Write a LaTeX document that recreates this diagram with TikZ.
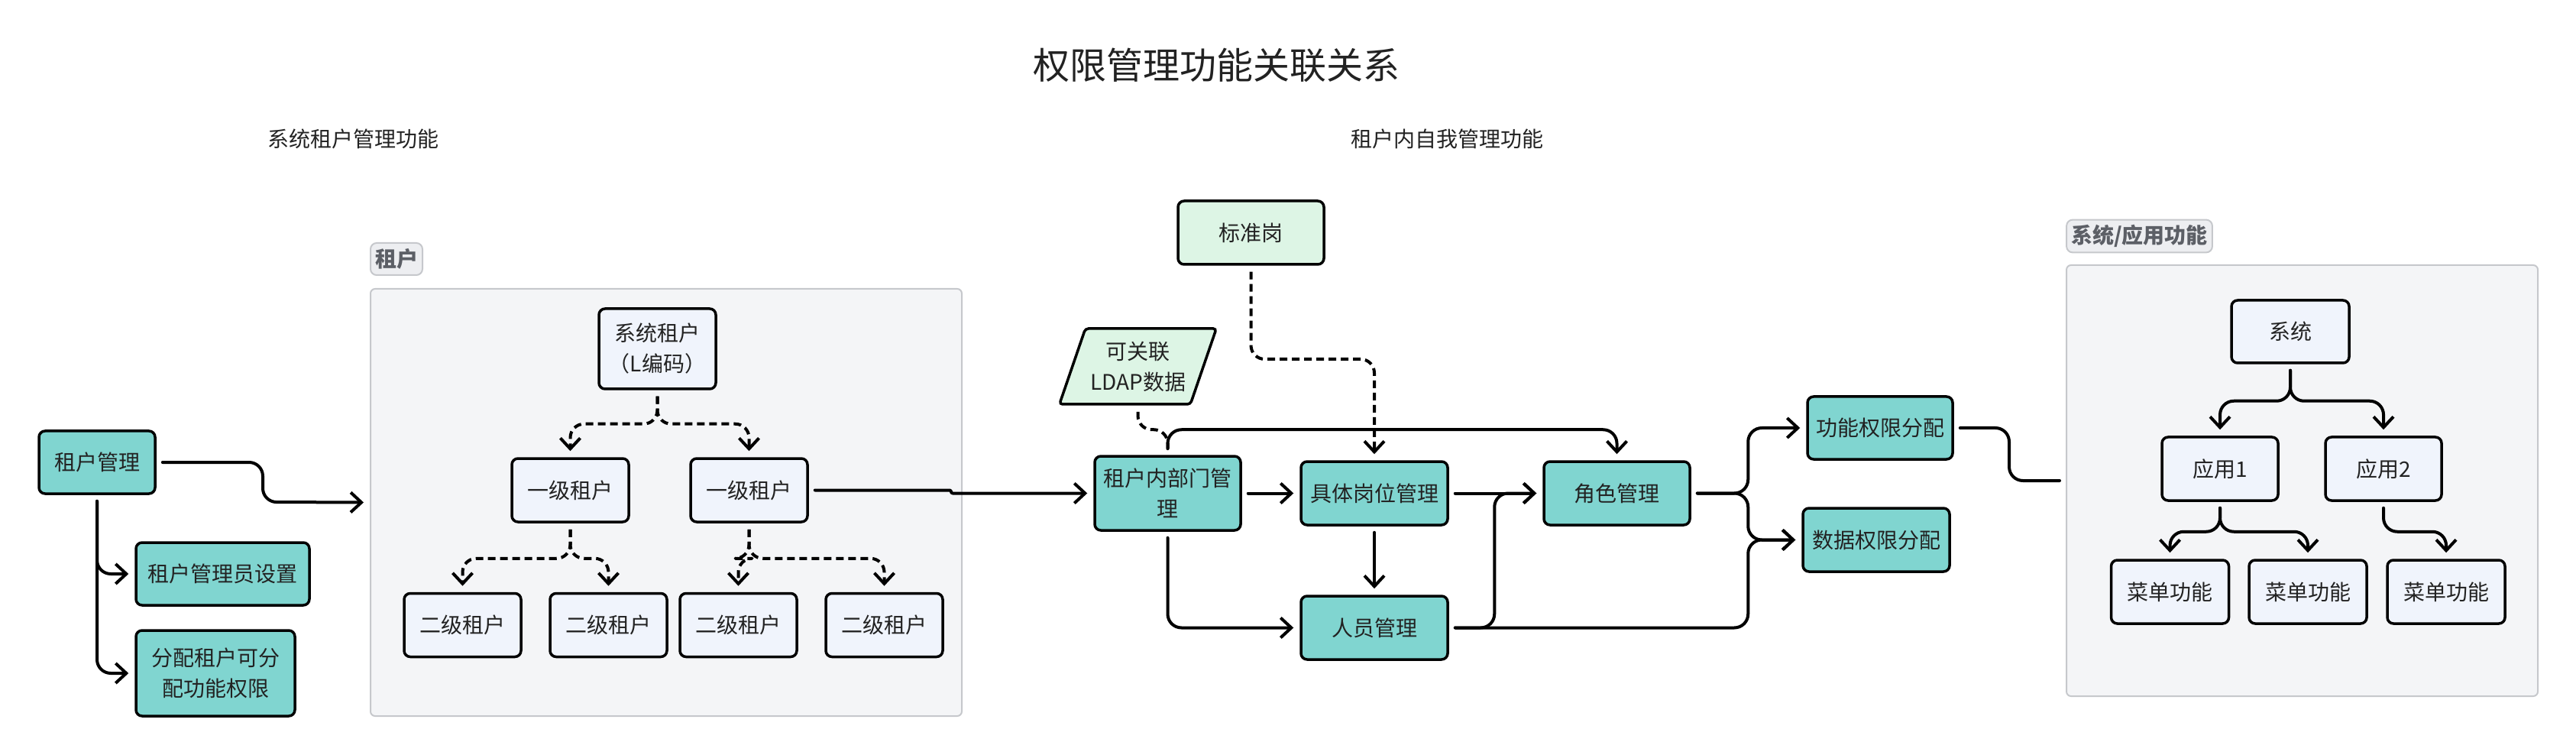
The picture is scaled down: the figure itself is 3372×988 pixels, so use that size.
\documentclass[tikz,border=0pt]{standalone}
\usepackage{fontspec}
\setmainfont{Noto Sans CJK SC}
\usetikzlibrary{arrows.meta,shapes.geometric,calc}
\definecolor{tealc}{HTML}{80D5D0}
\definecolor{bluec}{HTML}{F0F4FC}
\definecolor{greenc}{HTML}{DDF5E5}
\definecolor{grpfill}{HTML}{F4F5F7}
\definecolor{grpline}{HTML}{C6C8CC}
\definecolor{tagfill}{HTML}{EDEEF1}
\definecolor{tagtext}{HTML}{5C5F66}
\definecolor{inkc}{HTML}{222222}

\tikzset{
  box/.style={draw=black, line width=1.75pt, rounded corners=4pt, align=center,
    text=inkc, inner sep=2pt, font=\fontsize{14pt}{20pt}\selectfont},
  tealbox/.style={box, fill=tealc},
  bluebox/.style={box, fill=bluec, minimum width=76.5pt, minimum height=41.5pt},
  greenbox/.style={box, fill=greenc},
  grpbox/.style={draw=grpline, fill=grpfill, line width=1pt, rounded corners=3pt},
  grptag/.style={draw=grpline, fill=tagfill, line width=1pt, rounded corners=4pt,
    text=tagtext, inner xsep=3pt, minimum height=21pt,
    font=\fontsize{14pt}{16pt}\selectfont\bfseries},
  sectext/.style={text=inkc, font=\fontsize{14pt}{16pt}\selectfont},
  link/.style={line width=2pt, line cap=round, line join=round, rounded corners=9pt,
    shorten <=4pt, shorten >=4pt},
  flow/.style={link, -{Straight Barb[length=7pt,width=13pt]}},
  dashflow/.style={flow, dash pattern=on 5pt off 3pt, line cap=butt},
  dashlink/.style={link, dash pattern=on 5pt off 3pt, line cap=butt}
}

\begin{document}
\begin{tikzpicture}[x=0.5pt, y=-0.5pt]
  \useasboundingbox (0,0) rectangle (3372,988);
  % headings
  \node[text=inkc, font=\fontsize{24pt}{28pt}\selectfont] (title) at (1592,85) {权限管理功能关联关系};
  \node[sectext] (lefthead) at (462,182) {系统租户管理功能};
  \node[sectext] (midhead) at (1894.5,182) {租户内自我管理功能};

  % group frames
  \node[grpbox, minimum width=387pt, minimum height=279.5pt] (tenantgrp) at (872,657.5) {};
  \node[grptag] (tenanttag) at (519,339) {租户};
  \node[grpbox, minimum width=308.5pt, minimum height=282pt] (sysgrp) at (3013.5,629) {};
  \node[grptag] (systag) at (2800.5,309) {系统/应用功能};

  % tenant management
  \node[tealbox, minimum width=76pt, minimum height=41pt] (tmgr) at (127,605) {租户管理};
  \node[tealbox, minimum width=113.5pt, minimum height=41pt] (tadmin) at (291.5,751) {租户管理员设置};
  \node[tealbox, minimum width=104pt, minimum height=56pt] (tassign) at (282,881) {分配租户可分\\配功能权限};

  % tenant tree
  \node[bluebox, minimum height=52.5pt] (sys) at (860.5,456.5) {系统租户\\（L编码）};
  \node[bluebox] (l1a) at (746.5,641.5) {一级租户};
  \node[bluebox] (l1b) at (980.5,641.5) {一级租户};
  \foreach \n/\x in {l2a/605.5, l2b/796.5, l2c/966.5, l2d/1157.5} {
    \node[bluebox] (\n) at (\x,818) {二级租户};
  }

  % inner tenant management
  \node[greenbox, minimum width=95.5pt, minimum height=41.5pt] (std) at (1637.5,304.5) {标准岗};
  \node[greenbox, trapezium, trapezium left angle=66, trapezium right angle=114,
    trapezium stretches=true, rounded corners=2pt,
    minimum width=103.5pt, minimum height=49.5pt] (ldap) at (1489.5,479.5) {可关联\\LDAP数据};
  \node[tealbox, minimum width=95.5pt, minimum height=48.5pt] (dept) at (1528.5,645.5) {租户内部门管\\理};
  \node[tealbox, minimum width=96pt, minimum height=41.5pt] (post) at (1799,645.5) {具体岗位管理};
  \node[tealbox, minimum width=95.5pt, minimum height=41.5pt] (role) at (2116.5,645.5) {角色管理};
  \node[tealbox, minimum width=96pt, minimum height=41.5pt] (staff) at (1799,821.5) {人员管理};
  \node[tealbox, minimum width=95pt, minimum height=41pt] (fperm) at (2461,560) {功能权限分配};
  \node[tealbox, minimum width=96pt, minimum height=41.5pt] (dperm) at (2456,706.5) {数据权限分配};

  % system / app tree
  \node[bluebox, minimum width=77pt, minimum height=41pt] (sysn) at (2998,434) {系统};
  \node[bluebox, minimum width=76pt] (app1) at (2906,613.5) {应用1};
  \node[bluebox, minimum width=76pt] (app2) at (3120,613.5) {应用2};
  \foreach \n/\x in {menu1/2840.5, menu2/3021, menu3/3202} {
    \node[bluebox, minimum width=77pt] (\n) at (\x,774.5) {菜单功能};
  }

  % tenant links
  \draw[flow] (tmgr.east) -| (344,657) -- (tenantgrp.west);
  \draw[flow] (tmgr.south) |- (tadmin.west);
  \draw[flow] (tmgr.south) |- (tassign.west);
  \foreach \c in {l1a,l1b} \draw[dashflow] (sys.south) -- ++(0,44) -| (\c.north);
  \foreach \c in {l2a,l2b} \draw[dashflow] (l1a.south) -- ++(0,46) -| (\c.north);
  \foreach \c in {l2c,l2d} \draw[dashflow] (l1b.south) -- ++(0,46) -| (\c.north);
  \draw[flow, rounded corners=1pt] (l1b.east) -| (1245,645.5) -- (dept.west);

  % inner flow
  \draw[dashflow] (std.south) |- (1720,470) -| (post.north);
  \draw[dashlink] (ldap.south) |- ([yshift=16.5pt]dept.north) -- (dept.north);
  \draw[flow] (dept.north) -- ++(0,-33) -| (role.north);
  \draw[flow] (dept.east) -- (post.west);
  \draw[flow] (post.east) -- (role.west);
  \draw[flow] (post.south) -- (staff.north);
  \draw[flow] (dept.south) |- (staff.west);
  \draw[flow] (staff.east) -| ([xshift=-31.5pt]role.west) -- (role.west);
  \draw[flow] (staff.east) -| ([xshift=-35pt]dperm.west) -- (dperm.west);
  \draw[flow] (role.east) -| ([xshift=-38pt]fperm.west) -- (fperm.west);
  \draw[flow] (role.east) -| ([xshift=-35pt]dperm.west) -- (dperm.west);
  \draw[link] (fperm.east) -| ([xshift=-37pt]sysgrp.west) -- (sysgrp.west);

  % system links
  \foreach \c in {app1,app2} \draw[flow] (sysn.south) -- ++(0,48) -| (\c.north);
  \foreach \c in {menu1,menu2} \draw[flow] (app1.south) -- ++(0,39) -| (\c.north);
  \draw[flow] (app2.south) -- ++(0,39) -| (menu3.north);
\end{tikzpicture}
\end{document}
